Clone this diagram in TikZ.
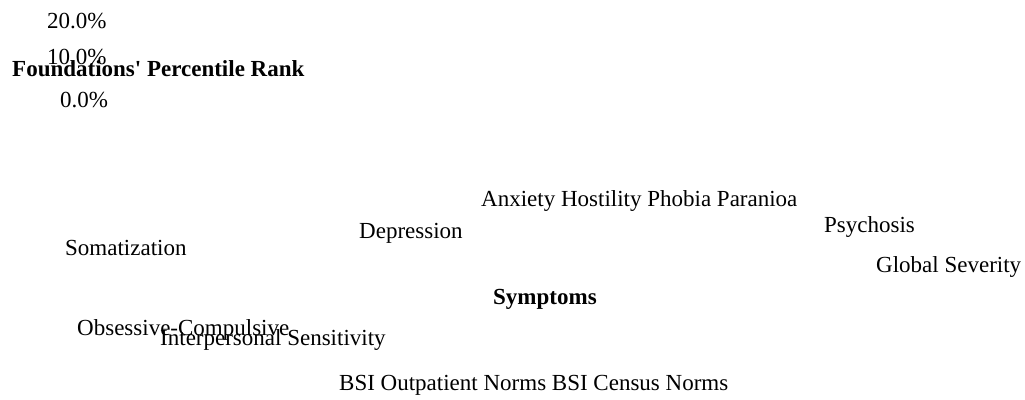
\documentclass[tikz,border=0pt]{standalone}
\usepackage{fontspec}
\setmainfont{Liberation Serif}
\begin{document}
\begin{tikzpicture}[x=1pt,y=-1pt,
  lbl/.style={inner sep=0pt,anchor=base west,font=\fontsize{23}{27}\selectfont},
  ttl/.style={lbl,font=\fontsize{23}{27}\selectfont\bfseries}]

  % Fix the frame of the picture
  \useasboundingbox (0,0) rectangle (1025,399);

  % Add the tick labels of the vertical axis
  \node[lbl] (t20) at (47,28) {20.0\%};
  \node[lbl] (t10) at (47,64) {10.0\%};
  \node[lbl] (t0) at (60,107) {0.0\%};

  % Add the title of the vertical axis
  \node[ttl] (ytitle) at (12,76) {Foundations\textquotesingle{} Percentile Rank};

  % Add the symptom labels
  \node[lbl] (anx) at (481,206) {Anxiety Hostility Phobia Paranioa};
  \node[lbl] (psy) at (824,232) {Psychosis};
  \node[lbl] (dep) at (359,238) {Depression};
  \node[lbl] (som) at (65,255) {Somatization};
  \node[lbl] (gsi) at (876,272) {Global Severity};
  \node[lbl] (obs) at (77,335) {Obsessive-Compulsive};
  \node[lbl] (ips) at (160,345) {Interpersonal Sensitivity};

  % Add the title of the horizontal axis
  \node[ttl] (xtitle) at (493,304) {Symptoms};

  % Add the legend
  \node[lbl] (leg) at (339,390) {BSI Outpatient Norms BSI Census Norms};

\end{tikzpicture}
\end{document}
